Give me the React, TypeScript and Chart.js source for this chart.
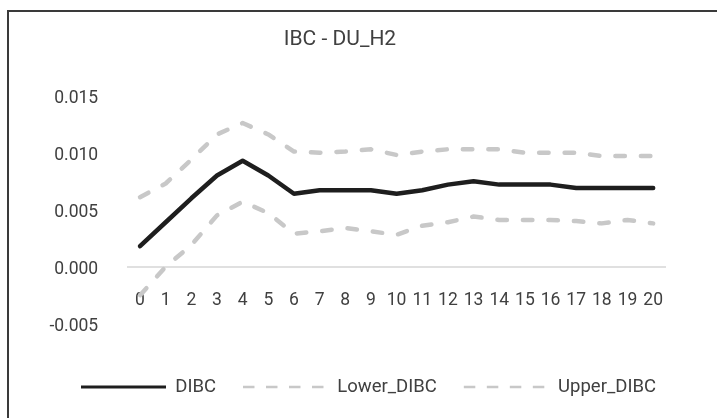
import React, { useEffect, useRef } from "react";
import { Chart, registerables } from "chart.js";

Chart.register(...registerables);

const TITLE = "IBC - DU_H2";
const PERIODS = ["0", "1", "2", "3", "4", "5", "6", "7", "8", "9", "10", "11", "12", "13", "14", "15", "16", "17", "18", "19", "20"];
const DIBC = [0.0018, 0.0039, 0.006, 0.008, 0.0093, 0.008, 0.0064, 0.0067, 0.0067, 0.0067, 0.0064, 0.0067, 0.0072, 0.0075, 0.0072, 0.0072, 0.0072, 0.0069, 0.0069, 0.0069, 0.0069];
const LOWER_DIBC = [-0.0025, 0.0, 0.0019, 0.0045, 0.0057, 0.0047, 0.0029, 0.0031, 0.0034, 0.0031, 0.0028, 0.0036, 0.0039, 0.0044, 0.0041, 0.0041, 0.0041, 0.004, 0.0038, 0.0041, 0.0038];
const UPPER_DIBC = [0.0061, 0.0073, 0.0094, 0.0116, 0.0126, 0.0116, 0.0101, 0.01, 0.0101, 0.0103, 0.0098, 0.0101, 0.0103, 0.0103, 0.0103, 0.01, 0.01, 0.01, 0.0097, 0.0097, 0.0097];
const Y_MIN = -0.005;
const Y_MAX = 0.015;
const Y_STEP = 0.005;

const TEXT = "#404040";
const GRAY = "#c8c8c8";
const LEGEND_FONT = 18.5;
const LEGEND_X = 81;
const LEGEND_Y = 387;

const legendShift = {
  id: "legendShift",
  afterLayout(chart: any) {
    const lg: any = chart.legend;
    if (!lg || !lg.lineWidths) return;
    const P = lg.options.labels.padding;
    const start = (lg.left + P + lg.right - lg.lineWidths[0]) / 2;
    const dx = LEGEND_X - start;
    const cy = lg.top + P + LEGEND_FONT / 2;
    const dy = LEGEND_Y - cy;
    lg.left += dx;
    lg.right += dx;
    lg.top += dy;
    lg.bottom += dy;
  },
};

export default function App() {
  const ref = useRef<HTMLCanvasElement | null>(null);

  useEffect(() => {
    if (!ref.current) return;
    Chart.defaults.font.family = "Roboto";
    const chart = new Chart(ref.current, {
      type: "line",
      data: {
        labels: PERIODS,
        datasets: [
          {
            label: "DIBC",
            data: DIBC,
            borderColor: "#1e1e1e",
            backgroundColor: "#1e1e1e",
            borderWidth: 4.5,
            pointRadius: 0,
            tension: 0,
            borderJoinStyle: "round",
            borderCapStyle: "round",
          },
          {
            label: "Lower_DIBC",
            data: LOWER_DIBC,
            borderColor: GRAY,
            backgroundColor: GRAY,
            borderWidth: 4.5,
            borderDash: [9.5, 16],
            borderCapStyle: "round",
            borderJoinStyle: "round",
            pointRadius: 0,
            tension: 0,
          },
          {
            label: "Upper_DIBC",
            data: UPPER_DIBC,
            borderColor: GRAY,
            backgroundColor: GRAY,
            borderWidth: 4.5,
            borderDash: [9.5, 16],
            borderCapStyle: "round",
            borderJoinStyle: "round",
            pointRadius: 0,
            tension: 0,
          },
        ],
      },
      options: {
        responsive: false,
        animation: false,
        layout: { padding: { left: 14, right: 51, top: 27.4, bottom: 38.8 } },
        scales: {
          x: {
            type: "category",
            offset: true,
            position: { y: 0 } as any,
            grid: { display: false, drawTicks: false },
            border: { display: false },
            ticks: {
              autoSkip: false,
              maxRotation: 0,
              padding: 23,
              color: TEXT,
              font: { size: 17.5 },
            },
          },
          y: {
            min: Y_MIN,
            max: Y_MAX,
            afterFit(scale: any) {
              scale.width = 113.2;
            },
            grid: {
              drawTicks: false,
              lineWidth: 2,
              color: (ctx: any) => (ctx.tick && Math.abs(ctx.tick.value) < 1e-10 ? "#e0e0e0" : "rgba(0,0,0,0)"),
            },
            border: { display: false },
            ticks: {
              stepSize: Y_STEP,
              padding: 29,
              labelOffset: 3,
              color: TEXT,
              font: { size: 17.5 },
              callback: (v: any) => Number(v).toFixed(3),
            },
          },
        },
        plugins: {
          title: {
            display: true,
            text: TITLE,
            color: TEXT,
            font: { size: 21, weight: "normal" },
            padding: { top: 0, bottom: 43.1 },
          },
          legend: {
            display: true,
            position: "bottom",
            labels: {
              usePointStyle: true,
              pointStyleWidth: 85,
              padding: 27,
              color: TEXT,
              font: { size: LEGEND_FONT },
              generateLabels: (ch: any) => {
                const items = Chart.defaults.plugins.legend.labels.generateLabels(ch);
                return items.map((it: any, i: number) => ({
                  ...it,
                  pointStyle: "line",
                  lineWidth: i === 0 ? 3 : 2.5,
                  lineDash: i === 0 ? [] : [11.5, 11.5],
                  lineCap: "butt",
                  fontColor: TEXT,
                }));
              },
            },
          },
          tooltip: { enabled: false },
        },
      },
      plugins: [legendShift],
    });
    return () => chart.destroy();
  }, []);

  return (
    <div style={{ position: "absolute", left: 0, top: 0, width: 717, height: 418, background: "#ffffff", overflow: "hidden" }}>
      <div
        style={{
          position: "absolute",
          left: 7,
          top: 10,
          width: 720,
          height: 420,
          borderLeft: "2px solid #3a3a3a",
          borderTop: "2px solid #3a3a3a",
        }}
      />
      <canvas ref={ref} width={717} height={418} style={{ position: "absolute", left: 0, top: 0, width: 717, height: 418 }} />
    </div>
  );
}
